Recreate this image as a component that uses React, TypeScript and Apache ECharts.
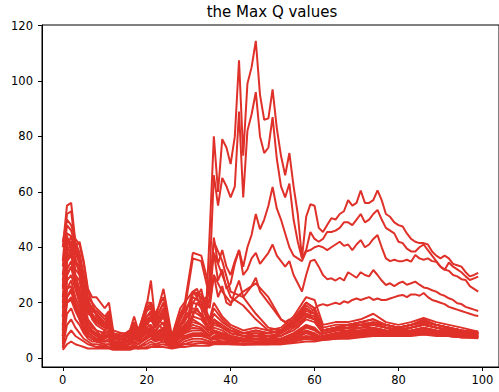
import React, { useEffect, useRef } from 'react';
import * as echarts from 'echarts';

const TITLE = 'the Max Q values';
const X_TICKS = [0, 20, 40, 60, 80, 100];
const Y_TICKS = [0, 20, 40, 60, 80, 100, 120];

// Sparse x positions shared by the dense "band" episodes
const BAND_X = [
  0, 1, 2, 3, 4, 5, 6, 7, 8,
  10, 11, 12,
  14, 16, 17, 18,
  20, 21, 22, 24,
  26, 28, 29, 31,
  33, 35, 36, 38,
  40, 43, 46, 49,
  52, 55, 58, 60,
  62, 65, 68, 71,
  74, 77, 80, 83,
  86, 89, 92, 95, 99,
];

const BAND_1 = [40, 55, 56, 42, 38, 30, 22, 20, 15, 12, 14, 8, 7, 6, 8, 6, 7, 9, 7, 6, 5, 6, 7, 8, 9, 8, 10, 9, 8, 7, 8, 7, 9, 12, 16, 14, 10, 11, 12, 13, 12, 12, 11, 12, 13, 12, 11, 10, 9];
const BAND_2 = [35, 52, 53, 40, 42, 35, 25, 22, 22, 18, 20, 10, 9, 8, 12, 9, 20, 20, 15, 12, 6, 10, 12, 14, 12, 10, 14, 11, 10, 9, 10, 9, 10, 14, 20, 18, 11, 12, 12, 13, 14, 12, 11, 12, 14, 12, 11, 10, 9.5];
const BAND_3 = [42, 50, 48, 43, 41, 34, 24, 20, 18, 15, 17, 9, 8, 10, 15, 10, 19, 28, 14, 25, 8, 18, 20, 24, 22, 14, 20, 15, 12, 10, 11, 10, 11, 15, 22, 21, 12, 13, 13, 14, 16, 13, 12, 13, 14.5, 13, 12, 11, 9.5];
const BAND_4 = [30, 45, 44, 40, 35, 28, 20, 18, 16, 13, 15, 8, 9, 9, 12, 10, 18, 20, 16, 22, 7, 15, 18, 20, 19, 12, 16, 13, 11, 9, 9, 9, 10, 13, 19, 17, 10, 11, 12, 12, 13, 12, 11, 12, 13, 12, 11, 10, 9];
const BAND_5 = [25, 42, 42, 36, 30, 24, 17, 15, 14, 11, 12, 7, 8, 9, 11, 8, 15, 16, 12, 18, 6, 12, 15, 18, 16, 11, 14, 12, 10, 8, 9, 8, 9, 12, 17, 16, 10, 11, 11, 12, 12, 11, 10, 11, 12, 11, 10, 9.5, 9];
const BAND_6 = [20, 40, 38, 34, 32, 26, 18, 14, 12, 10, 11, 7, 7, 8, 10, 8, 12, 14, 11, 15, 6, 10, 12, 15, 14, 10, 12, 11, 9, 8, 8, 8, 8, 11, 15, 14, 9, 10, 11, 11, 12, 11, 10, 11, 12, 11, 10, 9, 8.5];
const BAND_7 = [15, 35, 38, 30, 28, 20, 14, 12, 10, 9, 10, 6, 6, 7, 9, 7, 11, 12, 10, 13, 5, 9, 11, 13, 12, 9, 11, 10, 8, 7, 8, 7, 8, 10, 14, 13, 9, 10, 10, 11, 11, 10, 10, 10, 11, 10, 9.5, 9, 8.5];
const BAND_8 = [12, 30, 33, 28, 24, 18, 12, 10, 9, 8, 9, 6, 6, 7, 8, 7, 10, 11, 9, 11, 5, 8, 10, 12, 11, 8, 10, 9, 8, 7, 7, 7, 7, 9, 12, 11, 8, 9, 10, 10, 11, 10, 9.5, 10, 11, 10, 9, 8.5, 8];
const BAND_9 = [10, 28, 30, 25, 20, 15, 10, 9, 8, 7, 8, 5, 5, 6, 7, 6, 9, 10, 8, 10, 5, 7, 9, 10, 10, 8, 9, 8, 7, 6, 7, 6, 7, 8, 11, 10, 8, 9, 9, 10, 10, 9.5, 9, 9.5, 10, 9.5, 9, 8.5, 8];
const BAND_10 = [8, 25, 26, 20, 16, 12, 9, 8, 7, 6, 7, 5, 5, 5, 6, 5, 8, 9, 7, 9, 4, 6, 8, 9, 9, 7, 8, 8, 7, 6, 6, 6, 6, 8, 10, 9, 7, 8, 9, 9, 10, 9, 9, 9, 10, 9, 8.5, 8, 7.5];
const BAND_11 = [6, 20, 22, 18, 14, 10, 8, 7, 6, 6, 6, 4, 4, 5, 6, 5, 7, 8, 6, 8, 4, 6, 7, 8, 8, 7, 7, 7, 6, 6, 6, 6, 6, 7, 9, 8, 7, 8, 8, 9, 9, 9, 8.5, 9, 9.5, 9, 8.5, 8, 7.5];
const BAND_12 = [5, 16, 18, 14, 12, 9, 7, 6, 6, 5, 5, 4, 4, 4, 5, 4, 6, 7, 6, 7, 4, 5, 6, 7, 7, 6, 7, 6, 6, 5, 5.5, 5.5, 6, 7, 8, 7.5, 7, 7.5, 8, 8.5, 9, 8.5, 8.5, 8.5, 9, 8.5, 8, 7.5, 7.5];
const BAND_13 = [4, 12, 14, 11, 9, 7, 6, 5, 5, 4.5, 5, 4, 3.5, 4, 4.5, 4, 5, 6, 5, 6, 4, 5, 5, 6, 6, 5.5, 6, 6, 5.5, 5, 5, 5, 5.5, 6.5, 7.5, 7, 7, 7.5, 8, 8.5, 8.5, 8.5, 8.5, 8.5, 9, 8.5, 8, 7.5, 7.5];
const BAND_14 = [3.5, 8, 10, 8, 7, 6, 5, 4.5, 4, 4, 4, 3.5, 3.5, 3.5, 4, 3.5, 4, 5, 4.5, 5, 4, 4.5, 5, 5, 5.5, 5, 5.5, 5.5, 5, 5, 5, 5, 5, 6, 7, 6.5, 6.5, 7, 7.5, 8, 8.5, 8, 8, 8.5, 8.5, 8.5, 8, 7.5, 7.5];
const BAND_15 = [3, 5, 6, 5, 4.5, 4, 3.5, 3.5, 3.5, 3.5, 3.5, 3, 3, 3, 3.5, 3.5, 3.5, 4, 4, 4, 3.5, 4, 4, 4.5, 4.5, 4.5, 5, 5, 5, 4.8, 5, 5, 5, 5.5, 6, 6, 6.5, 7, 7, 7.5, 8, 8, 8, 8, 8.5, 8, 8, 7.5, 7.2];
const BAND_16 = [28, 40, 44, 38, 36, 27, 21, 18, 17, 14, 16, 8, 8, 9, 11, 9, 17, 18, 13, 20, 7, 16, 19, 38, 37, 25, 42, 35, 24, 22, 16, 11, 10, 13, 18, 16, 10, 11, 12, 12, 13, 12, 11, 12, 13, 12, 11, 10, 9];
const BAND_17 = [22, 38, 42, 35, 33, 25, 19, 16, 14, 12, 14, 7, 7, 8, 10, 8, 15, 17, 12, 17, 6, 14, 17, 36, 35, 22, 38, 30, 22, 19, 14, 10, 9, 12, 16, 15, 9, 10, 11, 12, 12, 11, 10, 11, 12, 11, 10, 9.5, 9];
const BAND_18 = [18, 36, 40, 32, 30, 22, 16, 15, 13, 11, 12, 7, 7, 8, 9, 8, 13, 15, 11, 15, 6, 12, 15, 24, 23, 18, 30, 24, 20, 24, 27, 22, 14, 11, 15, 14, 9, 10, 11, 11, 12, 11, 10, 11, 12, 11, 10, 9, 8.5];
const BAND_19 = [33, 48, 46, 41, 36, 29, 21, 17, 16, 12, 16, 9, 8, 10, 13, 9, 17, 19, 14, 20, 7, 14, 17, 22, 20, 13, 18, 14, 11, 9, 10, 9, 10, 14, 20, 18, 10, 11, 12, 13, 14, 12, 11, 12, 13.5, 12, 11, 10, 9];
const BAND_20 = [26, 44, 40, 38, 34, 27, 19, 16, 13, 11, 13, 7, 8, 8, 10, 8, 14, 15, 11, 16, 6, 11, 14, 17, 15, 10, 13, 11, 9, 8, 8, 8, 9, 12, 18, 16, 10, 10.5, 11, 12, 12.5, 11, 10.5, 11, 12.5, 11, 10.5, 9.5, 9];
const BAND_21 = [7, 22, 24, 19, 15, 11, 8, 7, 6.5, 6, 6.5, 4.5, 4.5, 5, 5.5, 5, 7.5, 8.5, 6.5, 8.5, 4, 6, 7.5, 8.5, 8.5, 7, 7.5, 7.5, 6.5, 6, 6, 6, 6.5, 7.5, 9.5, 8.5, 7.5, 8.5, 8.5, 9.5, 9.5, 9, 9, 9, 9.5, 9, 8.5, 8, 8];
const BAND_22 = [11, 32, 35, 27, 22, 16, 11, 9.5, 8.5, 7.5, 8.5, 5.5, 5.5, 6.5, 7.5, 6.5, 9.5, 10.5, 8.5, 10.5, 5, 7.5, 9.5, 11, 10.5, 8, 9.5, 8.5, 7.5, 6.5, 7, 6.5, 7, 8.5, 11.5, 10.5, 8, 9, 9.5, 10, 10.5, 9.5, 9, 9.5, 10.5, 9.5, 9, 8.5, 8];

// Episodes read at every x from 0 to 99
const PEAK_A = [
  8, 30, 33, 26, 20, 14, 10, 9, 8, 7,
  9, 10, 5, 5, 6, 7, 6, 8, 7, 10,
  11, 9, 8, 10, 9, 7, 5, 8, 10, 11,
  14, 20, 22, 18, 12, 45, 80, 60, 79, 76,
  70, 80, 107.5, 73, 99, 105, 114.5, 95, 86, 86.5,
  97, 83, 73, 66, 74, 62, 52, 36, 51, 55.5,
  55, 47, 45.5, 48, 50.5, 50, 52, 53, 57, 55,
  56, 60.5, 56, 56, 57, 60.5, 57, 52, 51, 49,
  48, 47.5, 45, 43, 42, 41.5, 41.5, 41, 38.5, 37,
  36, 37, 36, 34, 33.5, 33, 31, 29.5, 30, 30.8,
];
const PEAK_B = [
  12, 25, 28, 22, 18, 12, 9, 8, 7, 6,
  8, 9, 5, 5, 5, 6, 6, 7, 6, 8,
  9, 8, 7, 9, 8, 6, 5, 7, 9, 10,
  12, 16, 18, 15, 14, 30, 66, 55, 65, 62,
  58, 62, 89, 58, 82, 88, 96, 80, 74, 76,
  87, 72, 62, 58, 63, 50, 42, 36, 39, 45.5,
  43, 42, 43, 45.5, 45.5, 46, 47, 49, 49, 48,
  50, 52, 49, 50, 52, 53.5, 50, 47, 46, 45,
  42, 41.5, 39.5, 38.5, 38.5, 40, 41, 39, 37, 35,
  33, 31.8, 34.5, 33, 32, 31, 29.5, 28.2, 28.8, 29.4,
];
const PEAK_C = [
  15, 35, 37, 30, 25, 18, 13, 11, 10, 8,
  10, 12, 6, 6, 7, 8, 7, 10, 8, 12,
  13, 11, 9, 12, 10, 8, 6, 9, 12, 13,
  16, 24, 25, 20, 16, 22, 43.5, 34, 39, 33,
  30, 35, 39, 33, 40, 44.5, 52, 46.5, 50, 55,
  61.8, 54, 50, 45, 40, 37, 36, 35, 38.5, 39,
  40, 40.5, 40, 39, 40, 41, 42, 40.5, 41, 39,
  41, 42.6, 40, 41, 43, 44.4, 40, 36, 35, 35.5,
  35, 35, 35.5, 34.8, 37.2, 36, 35.5, 36, 35, 34.8,
  33, 32, 31.5, 30, 29.5, 28.5, 28.2, 26, 25, 24,
];
const PEAK_D = [
  10, 22, 25, 20, 16, 12, 9, 8, 7, 7,
  8, 9, 5, 5, 6, 6, 6, 8, 7, 9,
  10, 9, 8, 9, 8, 6, 5, 8, 10, 11,
  12, 24, 22, 25, 18, 28, 38, 28, 32, 25,
  27, 34, 39, 30, 32, 36, 38, 34, 36, 38,
  41, 37, 35, 33, 35, 30, 27, 24, 30, 35,
  35.5, 33, 30, 28.5, 28.8, 28, 29, 28, 31, 30,
  29, 31, 30, 29.5, 31.8, 30, 28, 26.4, 27, 26,
  27, 27.6, 26.5, 27, 27.6, 26.5, 25.5, 25.2, 24.5, 24,
  23, 22.5, 21.6, 21, 19.8, 19.5, 18.5, 18, 17.5, 17,
];
const PEAK_E = [
  9, 20, 21, 17, 14, 10, 8, 7, 6, 6,
  7, 8, 5, 5, 5, 6, 5, 7, 6, 8,
  9, 8, 7, 8, 7, 6, 5, 7, 9, 10,
  10, 15, 20, 18, 22, 20, 30, 22, 26, 20,
  19, 24, 28, 22, 24, 26, 29, 24, 22, 20,
  18, 16, 14, 13, 14, 12, 11, 13, 15, 16,
  18, 19, 19.5, 19, 19.5, 20, 19.5, 20.5, 20, 21,
  21.5, 21, 21.5, 22, 21, 21.5, 21, 21, 21.5, 22,
  22.5, 22.8, 22, 23, 23, 22.5, 23.5, 22, 21, 20.5,
  20, 19.5, 18.5, 18, 17.5, 17, 16.5, 16, 15.5, 15.2,
];

const BANDS = [BAND_1, BAND_2, BAND_3, BAND_4, BAND_5, BAND_6, BAND_7, BAND_8, BAND_9, BAND_10, BAND_11, BAND_12, BAND_13, BAND_14, BAND_15, BAND_16, BAND_17, BAND_18, BAND_19, BAND_20, BAND_21, BAND_22];
const PEAKS = [PEAK_A, PEAK_B, PEAK_C, PEAK_D, PEAK_E];

const LINE_COLOR = '#df3129';
const FONT = 'DejaVu Sans';

export default function App() {
  const ref = useRef<HTMLDivElement>(null);

  useEffect(() => {
    if (!ref.current) return;
    const chart = echarts.init(ref.current, null, { renderer: 'svg' });

    const lineBase = {
      type: 'line' as const,
      showSymbol: false,
      symbol: 'none',
      silent: true,
      lineStyle: { color: LINE_COLOR, width: 2 },
      itemStyle: { color: LINE_COLOR },
      emphasis: { disabled: true },
    };

    const series: any[] = [];
    BANDS.forEach((vals) => {
      series.push({ ...lineBase, data: BAND_X.map((x, i) => [x, vals[i]]) });
    });
    PEAKS.forEach((vals) => {
      series.push({ ...lineBase, data: vals.map((v, i) => [i, v]) });
    });

    chart.setOption({
      animation: false,
      grid: {
        left: 42,
        top: 25,
        width: 460,
        height: 342,
        show: true,
        borderColor: '#000',
        borderWidth: 1,
        backgroundColor: 'transparent',
      },
      graphic: [
        {
          type: 'text',
          x: 272,
          y: 12,
          style: {
            text: TITLE,
            fill: '#000',
            font: `15px "${FONT}"`,
            textAlign: 'center',
            textVerticalAlign: 'middle',
          },
        },
      ],
      xAxis: {
        type: 'value',
        min: -4.95,
        max: 103.95,
        splitLine: { show: false },
        axisLine: { show: true, onZero: false, lineStyle: { color: '#000', width: 1 } },
        axisTick: { show: true, inside: false, length: 4, customValues: X_TICKS, lineStyle: { color: '#000', width: 1 } },
        axisLabel: { customValues: X_TICKS, color: '#000', fontFamily: FONT, fontSize: 11.5, margin: 7 },
      },
      yAxis: {
        type: 'value',
        min: -3.2,
        max: 120.2,
        splitLine: { show: false },
        axisLine: { show: true, onZero: false, lineStyle: { color: '#000', width: 1 } },
        axisTick: { show: true, inside: false, length: 4, customValues: Y_TICKS, lineStyle: { color: '#000', width: 1 } },
        axisLabel: { customValues: Y_TICKS, color: '#000', fontFamily: FONT, fontSize: 11.5, margin: 9 },
      },
      series,
    });

    return () => chart.dispose();
  }, []);

  return (
    <div
      ref={ref}
      style={{ position: 'fixed', left: 0, top: 0, width: 499, height: 392, background: '#fff' }}
    />
  );
}
